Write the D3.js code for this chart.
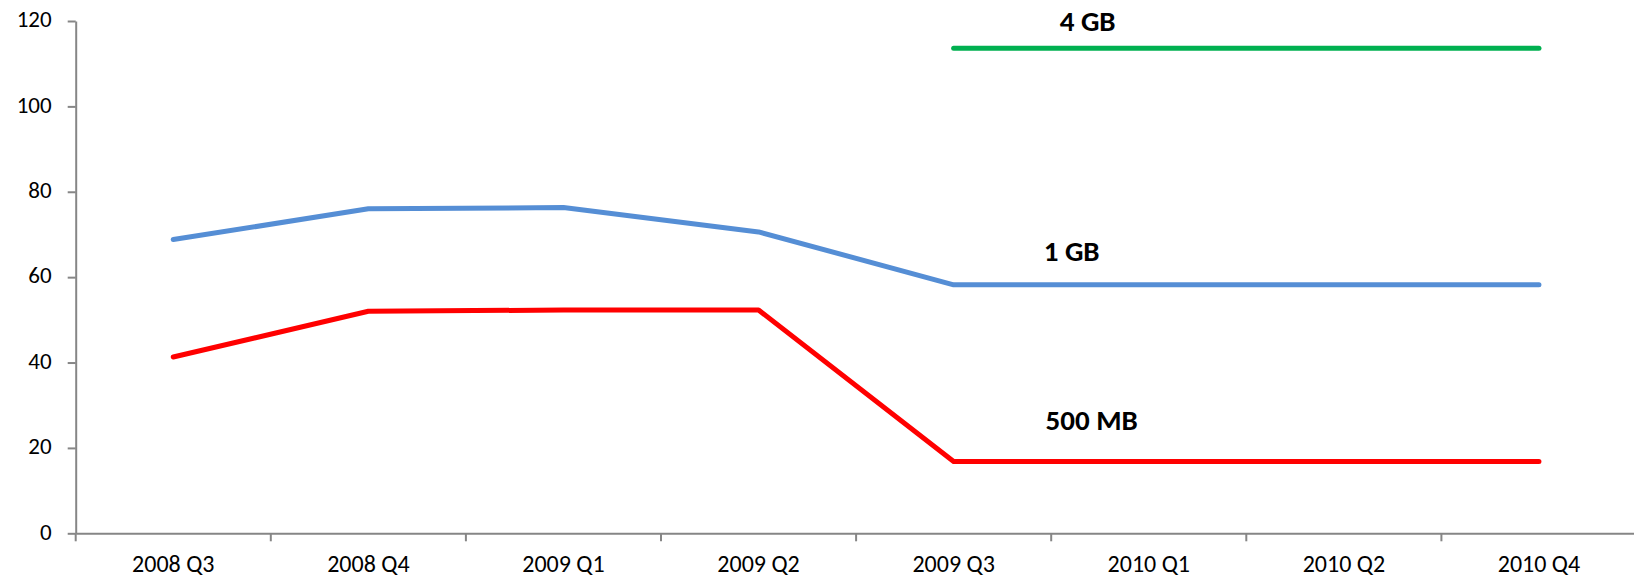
<!DOCTYPE html>
<html>
<head>
<meta charset="utf-8">
<script src="https://cdn.jsdelivr.net/npm/d3@7"></script>
<style>
  body { margin: 0; background: #fff; }
  svg { display: block; }
  .axis text { font-family: Carlito, Lato, sans-serif; fill: #000; }
</style>
</head>
<body>
<div id="container"></div>
<script>
// chart data
var categories = ["2008 Q3", "2008 Q4", "2009 Q1", "2009 Q2", "2009 Q3", "2010 Q1", "2010 Q2", "2010 Q4"];
var series500MB = [41.3, 52.0, 52.3, 52.3, 16.8, 16.8, 16.8, 16.8];
var series1GB = [68.8, 76.0, 76.3, 70.6, 58.2, 58.2, 58.2, 58.2];
var series4GB = [null, null, null, null, 113.6, 113.6, 113.6, 113.6];
var seriesNames = ["500 MB", "1 GB", "4 GB"];
var yTicks = [0, 20, 40, 60, 80, 100, 120];

var Chart = {
    WIDTH: 1634,
    HEIGHT: 579,
    X_MIN: 75.7,
    STEP: 195.1,
    Y_TOP: 21,
    Y_BOTTOM: 533.3
};

var svgContainer = d3.select("#container").append("svg")
        .attr("width", Chart.WIDTH)
        .attr("height", Chart.HEIGHT);

var x = d3.scaleBand()
        .domain(categories)
        .range([Chart.X_MIN, Chart.X_MIN + Chart.STEP * categories.length])
        .padding(0);

var y = d3.scaleLinear()
        .domain([0, 120])
        .range([Chart.Y_BOTTOM, Chart.Y_TOP]);

// y axis
var yAxis = svgContainer.append("g")
        .attr("class", "axis")
        .attr("transform", "translate(" + Chart.X_MIN + ",0)")
        .call(d3.axisLeft(y).tickValues(yTicks).tickSize(8).tickSizeOuter(0).tickPadding(16));
yAxis.selectAll("path, line").attr("stroke", "#868686").attr("stroke-width", 2);
yAxis.selectAll("text").style("font-size", "23px").attr("dy", "0.25em");

// x axis: labels at the centers, ticks at the band edges
var xAxis = svgContainer.append("g")
        .attr("class", "axis")
        .attr("transform", "translate(0," + Chart.Y_BOTTOM + ")")
        .call(d3.axisBottom(x).tickSize(0).tickSizeOuter(0).tickPadding(22));
xAxis.select("path").attr("stroke", "#868686").attr("stroke-width", 2);
xAxis.selectAll("text").style("font-size", "24px");

xAxis.selectAll(".edge")
        .data(categories)
        .enter().append("line")
        .attr("class", "edge")
        .attr("x1", function (d) { return x(d); })
        .attr("x2", function (d) { return x(d); })
        .attr("y1", 0)
        .attr("y2", 8)
        .attr("stroke", "#868686")
        .attr("stroke-width", 2);

// lines
var line = d3.line()
        .defined(function (d) { return d != null; })
        .x(function (d, i) { return x(categories[i]) + x.bandwidth() / 2; })
        .y(function (d) { return y(d); });

var lineData = [
    {name: "500 MB", values: series500MB, color: "#FF0000"},
    {name: "1 GB", values: series1GB, color: "#558ED5"},
    {name: "4 GB", values: series4GB, color: "#00B050"}
];

svgContainer.selectAll(".series")
        .data(lineData)
        .enter().append("path")
        .attr("class", "series")
        .attr("d", function (d) { return line(d.values); })
        .style("fill", "none")
        .style("stroke", function (d) { return d.color; })
        .style("stroke-width", 5)
        .style("stroke-linecap", "round")
        .style("stroke-linejoin", "round");

// series labels, placed after 2009 Q3
var labelValues = [26.6, 66.2, 120.1];
svgContainer.selectAll(".label")
        .data(seriesNames)
        .enter().append("text")
        .attr("class", "label")
        .attr("x", function (d, i) { return x("2009 Q3") + x.bandwidth() / 2 + [138, 118, 134][i]; })
        .attr("y", function (d, i) { return y(labelValues[i]); })
        .attr("dy", "0.36em")
        .attr("text-anchor", "middle")
        .attr("font-family", "Carlito, Lato, sans-serif")
        .attr("font-weight", "bold")
        .attr("font-size", "29px")
        .text(function (d) { return d; });
</script>
</body>
</html>
